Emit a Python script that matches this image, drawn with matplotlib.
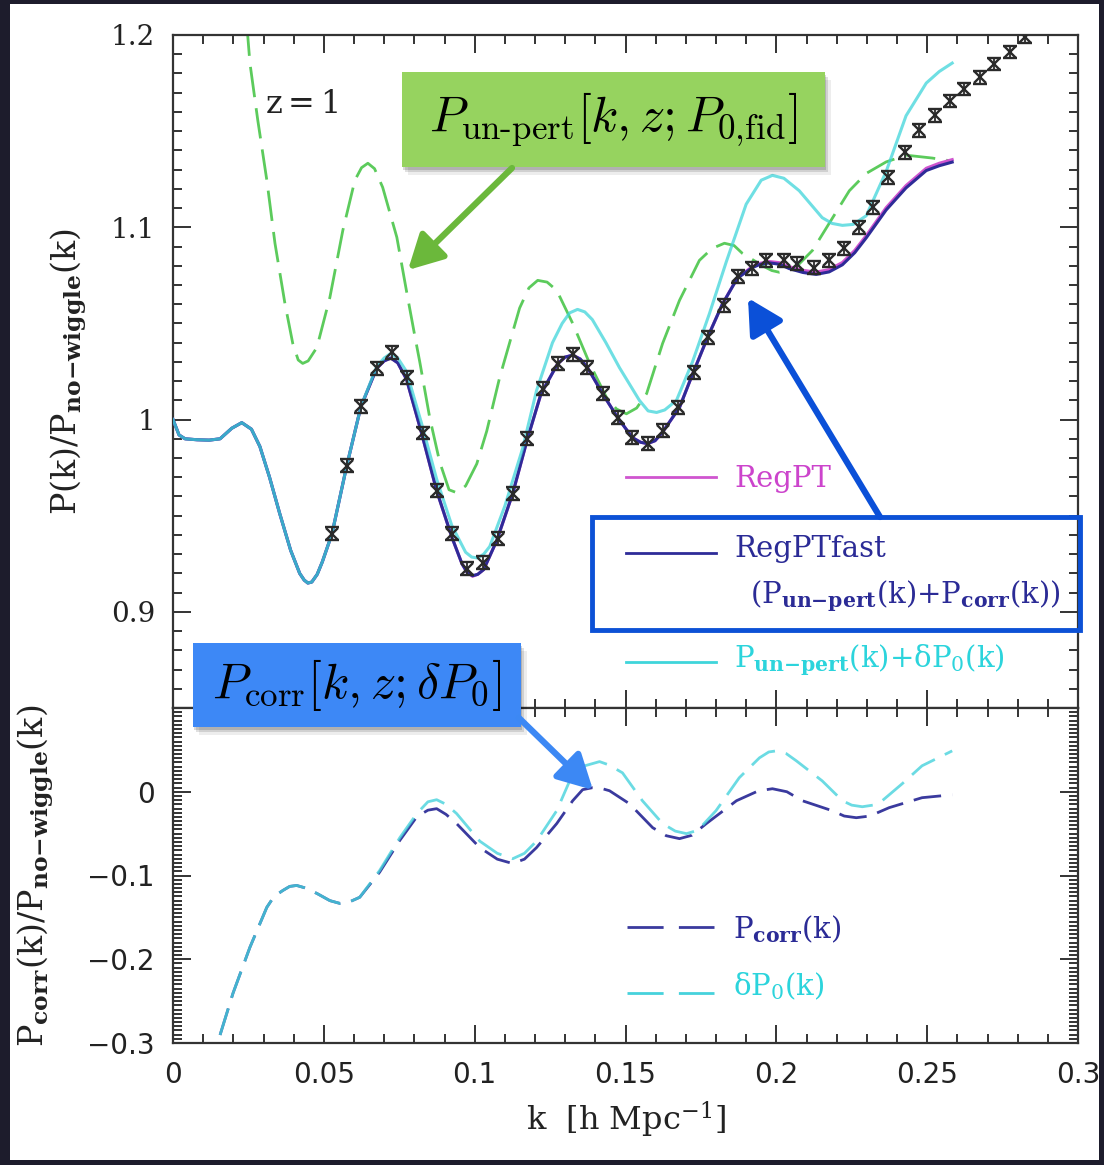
import matplotlib
matplotlib.use("Agg")
import matplotlib.pyplot as plt
from matplotlib.patches import Rectangle, FancyArrowPatch
from matplotlib.ticker import MultipleLocator, FixedLocator, FuncFormatter

plt.rcParams["mathtext.fontset"] = "dejavuserif"

# ---------------- data ----------------
# upper panel: P(k)/P_no-wiggle(k)
k_fast = [0.0, 0.002, 0.004, 0.008, 0.012, 0.0156, 0.0195, 0.0228, 0.026, 0.0288,
          0.032, 0.0354, 0.039, 0.042, 0.0435, 0.0447, 0.046, 0.0478, 0.0495, 0.0527,
          0.0576, 0.0623, 0.0675, 0.070, 0.0722, 0.0745, 0.0774, 0.0824, 0.0874, 0.0924,
          0.0958, 0.0975, 0.0993, 0.101, 0.103, 0.1073, 0.1126, 0.1175, 0.122, 0.1275,
          0.130, 0.1325, 0.135, 0.1374, 0.1424, 0.1474, 0.1523, 0.155, 0.1573, 0.1598,
          0.1623, 0.1679, 0.1722, 0.1772, 0.1821, 0.1871, 0.192, 0.1946, 0.1977, 0.201,
          0.2043, 0.2088, 0.2132, 0.2175, 0.2219, 0.226, 0.2298, 0.2364, 0.243, 0.2497,
          0.254, 0.2583]
regpt_fast = [1.000, 0.992, 0.990, 0.9895, 0.9893, 0.990, 0.9955, 0.9984, 0.995, 0.986,
              0.970, 0.951, 0.932, 0.920, 0.9165, 0.915, 0.9155, 0.9195, 0.926, 0.9406,
              0.976, 1.0068, 1.0266, 1.0305, 1.032, 1.0295, 1.021, 0.993, 0.963, 0.939,
              0.925, 0.9205, 0.9188, 0.9195, 0.922, 0.937, 0.9615, 0.990, 1.0135, 1.029,
              1.0325, 1.0335, 1.0315, 1.027, 1.0135, 1.001, 0.9906, 0.9882, 0.9875, 0.989,
              0.9935, 1.0063, 1.0235, 1.0427, 1.060, 1.0735, 1.079, 1.0807, 1.0815, 1.0808,
              1.0785, 1.0765, 1.0755, 1.0768, 1.0805, 1.0868, 1.0945, 1.109, 1.1205, 1.1295,
              1.132, 1.1339]
regpt = [1.000, 0.992, 0.990, 0.9895, 0.9893, 0.990, 0.9955, 0.9984, 0.995, 0.986,
         0.970, 0.951, 0.932, 0.920, 0.9165, 0.915, 0.9155, 0.9195, 0.926, 0.9406,
         0.976, 1.0068, 1.0266, 1.0305, 1.032, 1.0295, 1.021, 0.993, 0.963, 0.939,
         0.925, 0.9205, 0.9185, 0.9195, 0.922, 0.937, 0.9615, 0.990, 1.0135, 1.029,
         1.0325, 1.0335, 1.0315, 1.027, 1.0135, 1.001, 0.9906, 0.9882, 0.9875, 0.989,
         0.9935, 1.0063, 1.0235, 1.0427, 1.060, 1.0738, 1.0795, 1.0813, 1.0822, 1.0816,
         1.0795, 1.0776, 1.0767, 1.078, 1.0817, 1.088, 1.0957, 1.1102, 1.1217, 1.1307,
         1.1333, 1.1352]

k_cyan = [0.0, 0.002, 0.004, 0.008, 0.012, 0.0156, 0.0195, 0.0228, 0.026, 0.0288,
          0.032, 0.0354, 0.039, 0.042, 0.0435, 0.0447, 0.046, 0.0478, 0.0495, 0.0527,
          0.0576, 0.0623, 0.0675, 0.070, 0.0722, 0.0745, 0.0774, 0.0824, 0.0874, 0.0924,
          0.097, 0.099, 0.101, 0.103, 0.105, 0.110, 0.1159, 0.1205, 0.1258, 0.129,
          0.1315, 0.1341, 0.1365, 0.139, 0.1435, 0.148, 0.1546, 0.1575, 0.1603, 0.163,
          0.1669, 0.1722, 0.1778, 0.1834, 0.190, 0.195, 0.1987, 0.2025, 0.2076, 0.2152,
          0.2185, 0.2219, 0.2255, 0.2298, 0.2364, 0.243, 0.2497, 0.254, 0.2583]
unpert_plus_dp0 = [1.000, 0.992, 0.990, 0.9895, 0.9893, 0.990, 0.9955, 0.9984, 0.995, 0.986,
                   0.970, 0.951, 0.932, 0.920, 0.9165, 0.915, 0.9155, 0.9195, 0.926, 0.9406,
                   0.976, 1.0068, 1.0275, 1.032, 1.0344, 1.032, 1.025, 0.998, 0.969, 0.945,
                   0.931, 0.9285, 0.928, 0.930, 0.934, 0.955, 0.985, 1.015, 1.040, 1.050,
                   1.0555, 1.0573, 1.056, 1.052, 1.040, 1.027, 1.010, 1.0045, 1.0037, 1.005,
                   1.010, 1.030, 1.055, 1.082, 1.112, 1.1245, 1.127, 1.1255, 1.119, 1.105,
                   1.102, 1.101, 1.1015, 1.106, 1.129, 1.158, 1.175, 1.181, 1.1854]

k_unpert = [0.0245, 0.0255, 0.0281, 0.0311, 0.0338, 0.0371, 0.0397, 0.0415, 0.043, 0.0448,
            0.0477, 0.052, 0.0563, 0.0603, 0.0625, 0.0646, 0.0668, 0.0695, 0.0742, 0.0775,
            0.0801, 0.0818, 0.0851, 0.0884, 0.0915, 0.094, 0.097, 0.1007, 0.104, 0.1083,
            0.1149, 0.118, 0.1209, 0.124, 0.1272, 0.1325, 0.1381, 0.1437, 0.147, 0.1503,
            0.1537, 0.157, 0.1623, 0.1679, 0.1745, 0.1787, 0.1828, 0.186, 0.1887, 0.1954,
            0.1985, 0.201, 0.204, 0.2076, 0.212, 0.2175, 0.2242, 0.2298, 0.2364, 0.243,
            0.2517, 0.2583]
unpert_fid = [1.205, 1.1854, 1.1557, 1.1245, 1.0917, 1.0604, 1.0396, 1.031, 1.0292, 1.0305,
              1.0375, 1.0635, 1.0984, 1.1245, 1.131, 1.1333, 1.1305, 1.1208, 1.0948, 1.066,
              1.044, 1.030, 1.001, 0.978, 0.9635, 0.962, 0.9655, 0.977, 0.994, 1.022,
              1.058, 1.0685, 1.0724, 1.0715, 1.0672, 1.050, 1.0292, 1.0115, 1.0055, 1.003,
              1.006, 1.0135, 1.0396, 1.062, 1.0828, 1.089, 1.0917, 1.0905, 1.0865, 1.080,
              1.0775, 1.0766, 1.0775, 1.081, 1.088, 1.102, 1.119, 1.128, 1.134, 1.1375,
              1.136, 1.1344]

# N-body points
k_nbody = [0.0527, 0.0576, 0.0623, 0.0675, 0.0725, 0.0775, 0.0828, 0.0874, 0.0924, 0.0974,
           0.1026, 0.1076, 0.1126, 0.1172, 0.1225, 0.1275, 0.1325, 0.1374, 0.1424, 0.1474,
           0.1523, 0.1573, 0.1623, 0.1675, 0.1728, 0.1772, 0.1828, 0.1874, 0.192, 0.1967,
           0.2026, 0.207, 0.2126, 0.2175, 0.2225, 0.2275, 0.2321, 0.2371, 0.2427, 0.2474,
           0.2526, 0.2576, 0.2623, 0.2675, 0.2722, 0.2775, 0.2825]
p_nbody = [0.9406, 0.976, 1.0068, 1.0266, 1.035, 1.022, 0.993, 0.963, 0.9406, 0.9224,
           0.9255, 0.938, 0.9615, 0.990, 1.0161, 1.029, 1.0339, 1.027, 1.0135, 1.001,
           0.9906, 0.9875, 0.9943, 1.0063, 1.0245, 1.0427, 1.0594, 1.0745, 1.0786, 1.0828,
           1.0828, 1.081, 1.079, 1.0828, 1.089, 1.100, 1.1104, 1.126, 1.139, 1.1505,
           1.1583, 1.1656, 1.1719, 1.178, 1.1849, 1.1911, 1.199]

# lower panel: correction terms
k_corr = [0.012, 0.0146, 0.0199, 0.0255, 0.0311, 0.0335, 0.0364, 0.0387, 0.041, 0.0435,
          0.0477, 0.052, 0.0553, 0.0585, 0.0619, 0.0685, 0.0752, 0.0808, 0.0845, 0.0874,
          0.0905, 0.094, 0.1017, 0.1075, 0.1126, 0.1165, 0.1205, 0.1272, 0.1325, 0.1358,
          0.139, 0.142, 0.1447, 0.1513, 0.159, 0.1635, 0.1679, 0.172, 0.1768, 0.1868,
          0.194, 0.1987, 0.2035, 0.2086, 0.2185, 0.2225, 0.2265, 0.231, 0.2374, 0.2483,
          0.2583]
p_corr = [-0.335, -0.302, -0.2405, -0.1857, -0.138, -0.125, -0.1179, -0.113, -0.1119, -0.1145,
          -0.1214, -0.130, -0.1333, -0.1315, -0.126, -0.096, -0.058, -0.030, -0.022, -0.0202,
          -0.027, -0.038, -0.0667, -0.0805, -0.0857, -0.0805, -0.0667, -0.038, -0.0107, 0.0025,
          0.0048, 0.004, 0.0012, -0.0143, -0.0429, -0.0525, -0.056, -0.052, -0.038, -0.0107,
          0.001, 0.0036, 0.0, -0.0107, -0.0226, -0.029, -0.031, -0.029, -0.019, -0.0071,
          -0.0036]

k_dp0 = [0.012, 0.0146, 0.0199, 0.0255, 0.0311, 0.0335, 0.0364, 0.0387, 0.041, 0.0435,
         0.0477, 0.052, 0.0553, 0.0585, 0.0619, 0.0685, 0.0752, 0.0808, 0.0845, 0.0874,
         0.0905, 0.094, 0.1017, 0.1075, 0.1126, 0.1165, 0.1205, 0.1272, 0.1315, 0.1365,
         0.1414, 0.1445, 0.149, 0.1556, 0.1623, 0.1665, 0.1702, 0.174, 0.180, 0.1877,
         0.1944, 0.1975, 0.200, 0.2033, 0.2066, 0.2152, 0.2219, 0.225, 0.2285, 0.232,
         0.2351, 0.2417, 0.2483, 0.2583]
delta_p0 = [-0.335, -0.302, -0.2405, -0.1857, -0.138, -0.125, -0.1179, -0.113, -0.1119, -0.1145,
            -0.1214, -0.130, -0.1333, -0.1315, -0.126, -0.094, -0.0548, -0.0262, -0.012, -0.0095,
            -0.015, -0.026, -0.059, -0.0735, -0.080, -0.0735, -0.059, -0.0226, 0.013, 0.031,
            0.036, 0.032, 0.0226, -0.0107, -0.038, -0.047, -0.050, -0.046, -0.0226, 0.0167,
            0.0405, 0.0475, 0.0488, 0.0455, 0.037, 0.013, -0.0107, -0.016, -0.0179, -0.016,
            -0.0107, 0.0095, 0.031, 0.0488]

# ---------------- colours ----------------
c_navy = "#2e2b98"
c_mag = "#cf55cf"
c_cyan = "#3fd5da"
c_green = "#5ccb5c"
c_dnavy = "#3a3a9e"
c_dcyan = "#46d2dc"

W, H = 1104, 1165
fig = plt.figure(figsize=(W / 100, H / 100), dpi=100, facecolor="#1d1c2c")


def fx(px):
    return px / W


def fy(py):
    return 1 - py / H


# white page on dark background
fig.add_artist(Rectangle((fx(10), fy(1160)), fx(1099) - fx(10), fy(4) - fy(1160),
                         transform=fig.transFigure, facecolor="white",
                         edgecolor="none", zorder=-1))

ax1 = fig.add_axes([fx(173), fy(708), fx(1078) - fx(173), fy(35) - fy(708)])
ax2 = fig.add_axes([fx(173), fy(1043), fx(1078) - fx(173), fy(708) - fy(1043)])

fmt = FuncFormatter(lambda v, p: f"{v:g}".replace("-", "\u2212"))


def style(ax):
    for s in ax.spines.values():
        s.set_linewidth(1.6)
        s.set_color("#333333")
    ax.tick_params(which="both", direction="in", top=True, right=True,
                   color="#333333", width=1.4)
    ax.tick_params(which="major", length=13, pad=13, labelsize=20,
                   labelcolor="#222222")
    ax.tick_params(which="minor", length=6.5)
    ax.xaxis.set_major_locator(MultipleLocator(0.05))
    ax.xaxis.set_minor_locator(MultipleLocator(0.01))
    ax.xaxis.set_major_formatter(fmt)
    ax.yaxis.set_major_formatter(fmt)
    ax.set_xlim(0, 0.3)


style(ax1)
style(ax2)

# ---------------- upper panel ----------------
ax1.set_ylim(0.85, 1.2)
ax1.yaxis.set_major_locator(FixedLocator([0.9, 1.0, 1.1, 1.2]))
ax1.yaxis.set_minor_locator(MultipleLocator(0.01))
ax1.tick_params(axis="x", labelbottom=False)
ax1.tick_params(axis="y", labelfontfamily="DejaVu Serif")

ax1.plot(k_unpert, unpert_fid, color=c_green, lw=2.0, dashes=(11, 4), zorder=2)
ax1.plot(k_fast, regpt, color=c_mag, lw=2.2, zorder=3)
ax1.plot(k_fast, regpt_fast, color=c_navy, lw=2.2, zorder=3)
ax1.plot(k_cyan, unpert_plus_dp0, color=c_cyan, lw=2.2, alpha=0.75, zorder=4)
ax1.errorbar(k_nbody, p_nbody, yerr=0.0033, fmt="x", ms=9, mew=1.7,
             color="#2a2a2a", ecolor="#2a2a2a", elinewidth=1.3, capsize=5,
             capthick=1.8, zorder=5)

ax1.text(0.1017, 0.896, r"$\mathrm{z=1}$", transform=ax1.transAxes,
         fontsize=23, va="center", color="#222222")

# legend of the upper panel
lx = [0.5006, 0.600]
ax1.plot(lx, [0.3432, 0.3432], transform=ax1.transAxes, color=c_mag, lw=2)
ax1.plot(lx, [0.2303, 0.2303], transform=ax1.transAxes, color=c_navy, lw=2)
ax1.plot(lx, [0.0684, 0.0684], transform=ax1.transAxes, color=c_cyan, lw=2)
ax1.text(0.6199, 0.3284, "RegPT", transform=ax1.transAxes, color="#cc44cc",
         fontsize=21, family="DejaVu Serif", va="baseline")
ax1.text(0.6199, 0.2244, "RegPTfast", transform=ax1.transAxes, color="#2b2b96",
         fontsize=21, family="DejaVu Serif", va="baseline")
ax1.text(0.6376, 0.156,
         r"$\mathrm{(P_{\mathbf{un{-}pert}}(k){+}P_{\mathbf{corr}}(k))}$",
         transform=ax1.transAxes, color="#2b2b96", fontsize=21, va="baseline")
ax1.text(0.6199, 0.0609, r"$\mathrm{P_{\mathbf{un{-}pert}}(k){+}\delta P_0(k)}$",
         transform=ax1.transAxes, color="#2cd4dc", fontsize=21, va="baseline")

ax1.set_ylabel(r"$\mathrm{P(k)/P_{\mathbf{no{-}wiggle}}(k)}$", fontsize=24,
               color="#222222")
ax1.yaxis.set_label_coords(-0.093, 0.5)

# ---------------- lower panel ----------------
ax2.set_ylim(-0.3, 0.1)
ax2.yaxis.set_major_locator(FixedLocator([-0.3, -0.2, -0.1, 0.0]))
ax2.yaxis.set_minor_locator(MultipleLocator(0.005))
ax2.tick_params(labelfontfamily="DejaVu Sans")

ax2.plot(k_corr, p_corr, color=c_dnavy, lw=2.0, dashes=(10, 4), zorder=3)
ax2.plot(k_dp0, delta_p0, color=c_dcyan, lw=2.0, dashes=(10, 4), alpha=0.8, zorder=4)

lx2 = [0.5014, 0.5978]
ax2.plot(lx2, [0.3463, 0.3463], transform=ax2.transAxes, color=c_dnavy, lw=2,
         dashes=(13, 5.5))
ax2.plot(lx2, [0.1493, 0.1493], transform=ax2.transAxes, color=c_dcyan, lw=2,
         dashes=(13, 5.5))
ax2.text(0.6188, 0.3134, r"$\mathrm{P_{\mathbf{corr}}(k)}$", transform=ax2.transAxes,
         color="#2b2b96", fontsize=21, va="baseline")
ax2.text(0.6188, 0.1433, r"$\mathrm{\delta P_0(k)}$", transform=ax2.transAxes,
         color="#2cd4dc", fontsize=21, va="baseline")

ax2.set_ylabel(r"$\mathrm{P_{\mathbf{corr}}(k)/P_{\mathbf{no{-}wiggle}}(k)}$",
               fontsize=24, color="#222222")
ax2.yaxis.set_label_coords(-0.129, 0.5)
ax2.set_xlabel(r"$\mathrm{k\ \ [h\ Mpc^{-1}]}$", fontsize=23, color="#222222")
ax2.xaxis.set_label_coords(0.5, -0.17)


# ---------------- call-out boxes and arrows ----------------
def callout(x0, y0, x1, y1, color, text):
    for off, a in ((8, 0.07), (5, 0.12), (3, 0.15)):
        fig.add_artist(Rectangle((fx(x0 + off - 2), fy(y1 + off)), fx(x1) - fx(x0),
                                 fy(y0) - fy(y1), transform=fig.transFigure,
                                 facecolor="black", edgecolor="none", alpha=a,
                                 zorder=9))
    fig.add_artist(Rectangle((fx(x0), fy(y1)), fx(x1) - fx(x0), fy(y0) - fy(y1),
                             transform=fig.transFigure, facecolor=color,
                             edgecolor="none", zorder=10))
    fig.text(fx((x0 + x1) / 2), fy((y0 + y1) / 2), text, math_fontfamily="cm",
             fontsize=36, ha="center", va="center", color="black", zorder=11)


def arrow(p0, p1, color):
    fig.add_artist(FancyArrowPatch((fx(p0[0]), fy(p0[1])), (fx(p1[0]), fy(p1[1])),
                                   transform=fig.transFigure,
                                   arrowstyle="-|>,head_length=1.4,head_width=0.75",
                                   mutation_scale=15, lw=4.5, color=color,
                                   shrinkA=0, shrinkB=0, zorder=10))


callout(402, 72, 825, 167, "#96d35f", r"$P_{\text{un-pert}}[k,z;P_{0{,}\rm fid}]$")
callout(193, 643, 521, 727, "#3d88f6", r"$P_{\rm corr}[k,z;\delta P_0]$")

fig.add_artist(Rectangle((fx(592), fy(630)), fx(1080) - fx(592), fy(517) - fy(630),
                         transform=fig.transFigure, fill=False, edgecolor="#0c51d6",
                         lw=3.5, zorder=10))

arrow((512, 168), (408, 270), "#6bb83b")
arrow((880, 517), (748, 298), "#0b50d8")
arrow((519, 718), (593, 790), "#3c88f4")

fig.savefig("out.png", dpi=100, facecolor=fig.get_facecolor())
